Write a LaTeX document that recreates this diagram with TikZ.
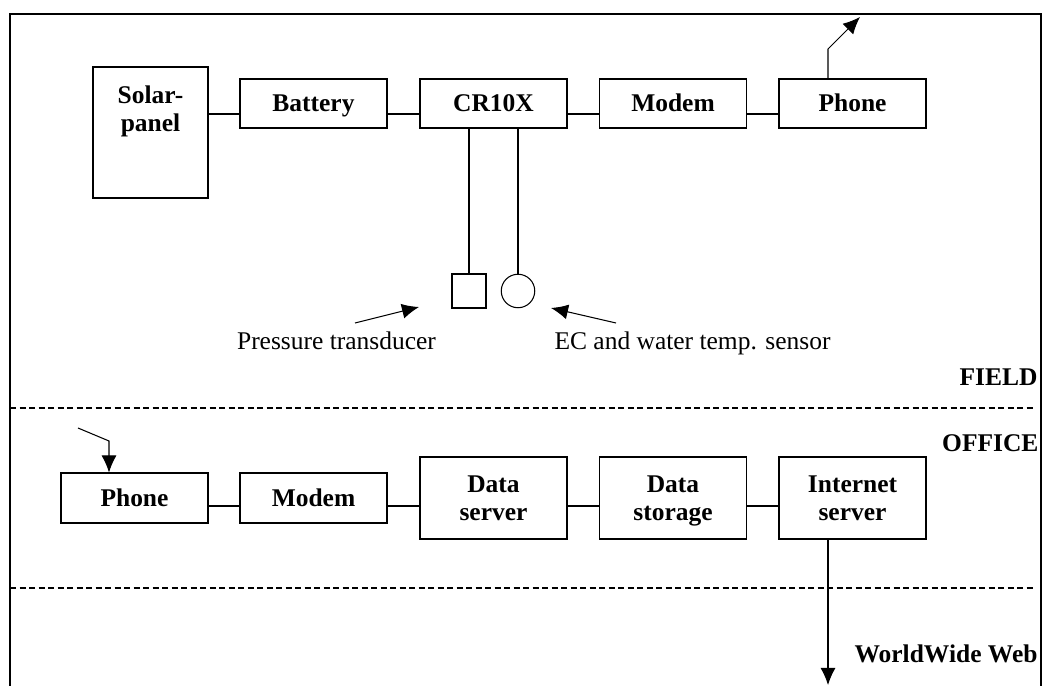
\documentclass[tikz,border=0pt]{standalone}
\usepackage{fontspec}
\setmainfont{Liberation Serif}
\usetikzlibrary{arrows.meta}

\begin{document}
\begin{tikzpicture}[line width=0.6pt,
  frame/.style={draw, minimum width=2.94cm, align=center, inner sep=0pt,
    font=\fontsize{14.5}{16}\selectfont\bfseries},
  box/.style={frame, minimum height=0.98cm, text depth=0.05em},
  tallbox/.style={frame, minimum height=1.64cm, text depth=0pt},
  arr/.style={-{Latex[length=0.34cm,width=0.3cm]}},
  zone/.style={dash pattern=on 0.12cm off 0.07cm},
  note/.style={inner sep=0pt, anchor=base, font=\fontsize{14.5}{16}\selectfont},
  zonelabel/.style={inner sep=0pt, anchor=base east, font=\fontsize{14.5}{16}\selectfont\bfseries}]
  \useasboundingbox (0,0) rectangle (20.88,13.72);
  % Frame (open at the bottom)
  \draw[line width=1pt] (0.2,0) -- (0.2,13.44) -- (20.82,13.44) -- (20.82,0);
  % Field station
  \node[box, minimum width=2.3cm, minimum height=2.62cm,
    label={[align=center, anchor=north, yshift=-0.25cm, font=\fontsize{14.5}{16}\selectfont\bfseries]north:Solar-\\panel}] (solar) at (3.01,11.07) {};
  \node[box] (battery) at (6.27,11.65) {Battery};
  \node[box] (logger) at (9.87,11.65) {CR10X};
  \node[box] (fmodem) at (13.46,11.65) {Modem};
  \node[box] (fphone) at (17.05,11.65) {Phone};
  \coordinate (frow) at (0,11.44);
  \draw (solar.east |- frow) -- (battery.west |- frow);
  \draw (battery.east |- frow) -- (logger.west |- frow);
  \draw (logger.east |- frow) -- (fmodem.west |- frow);
  \draw (fmodem.east |- frow) -- (fphone.west |- frow);
  % Phone line out of the field
  \coordinate (fbend) at (16.56,12.74);
  \coordinate (fsky) at (17.2,13.38);
  \draw[arr] (fphone.north -| fbend) -- (fbend) -- (fsky);
  % Sensors
  \node[draw, minimum size=0.68cm, inner sep=0pt] (ptrans) at (9.38,7.90) {};
  \node[draw, circle, minimum size=0.67cm, inner sep=0pt] (ecsens) at (10.36,7.90) {};
  \draw (logger.south -| ptrans) -- (ptrans.north);
  \draw (logger.south -| ecsens) -- (ecsens.north);
  \node[note] (ptext) at (6.73,6.72) {Pressure transducer};
  \node[note] (ectext) at (13.85,6.72) {EC and water temp. sensor};
  \coordinate (ptail) at (7.10,7.26);
  \coordinate (ptip) at (8.38,7.58);
  \coordinate (ectail) at (12.32,7.26);
  \coordinate (ectip) at (11.02,7.56);
  \draw[arr] (ptail) -- (ptip);
  \draw[arr] (ectail) -- (ectip);
  % Zones
  \node[zonelabel] (fieldlabel) at (20.76,6.00) {FIELD};
  \draw[zone] (0.2,5.56) -- (20.7,5.56);
  \node[zonelabel] (officelabel) at (20.78,4.68) {OFFICE};
  \draw[zone] (0.2,1.96) -- (20.7,1.96);
  % Office
  \node[box, minimum height=1.0cm] (ophone) at (2.69,3.76) {Phone};
  \node[box, minimum height=1.0cm] (omodem) at (6.27,3.76) {Modem};
  \node[tallbox] (dserver) at (9.87,3.76) {Data\\server};
  \node[tallbox] (dstore) at (13.46,3.76) {Data\\storage};
  \node[tallbox] (iserver) at (17.05,3.76) {Internet\\server};
  \coordinate (orow) at (0,3.60);
  \draw (ophone.east |- orow) -- (omodem.west |- orow);
  \draw (omodem.east |- orow) -- (dserver.west |- orow);
  \draw (dserver.east |- orow) -- (dstore.west |- orow);
  \draw (dstore.east |- orow) -- (iserver.west |- orow);
  % Incoming call
  \coordinate (ocall) at (1.56,5.16);
  \coordinate (obend) at (2.18,4.90);
  \draw[arr] (ocall) -- (obend) -- (ophone.north -| obend);
  % Out to the web
  \coordinate (web) at (16.56,0.02);
  \draw[arr] (iserver.south -| web) -- (web);
  \node[zonelabel] (wwwlabel) at (20.76,0.46) {WorldWide Web};
\end{tikzpicture}
\end{document}
